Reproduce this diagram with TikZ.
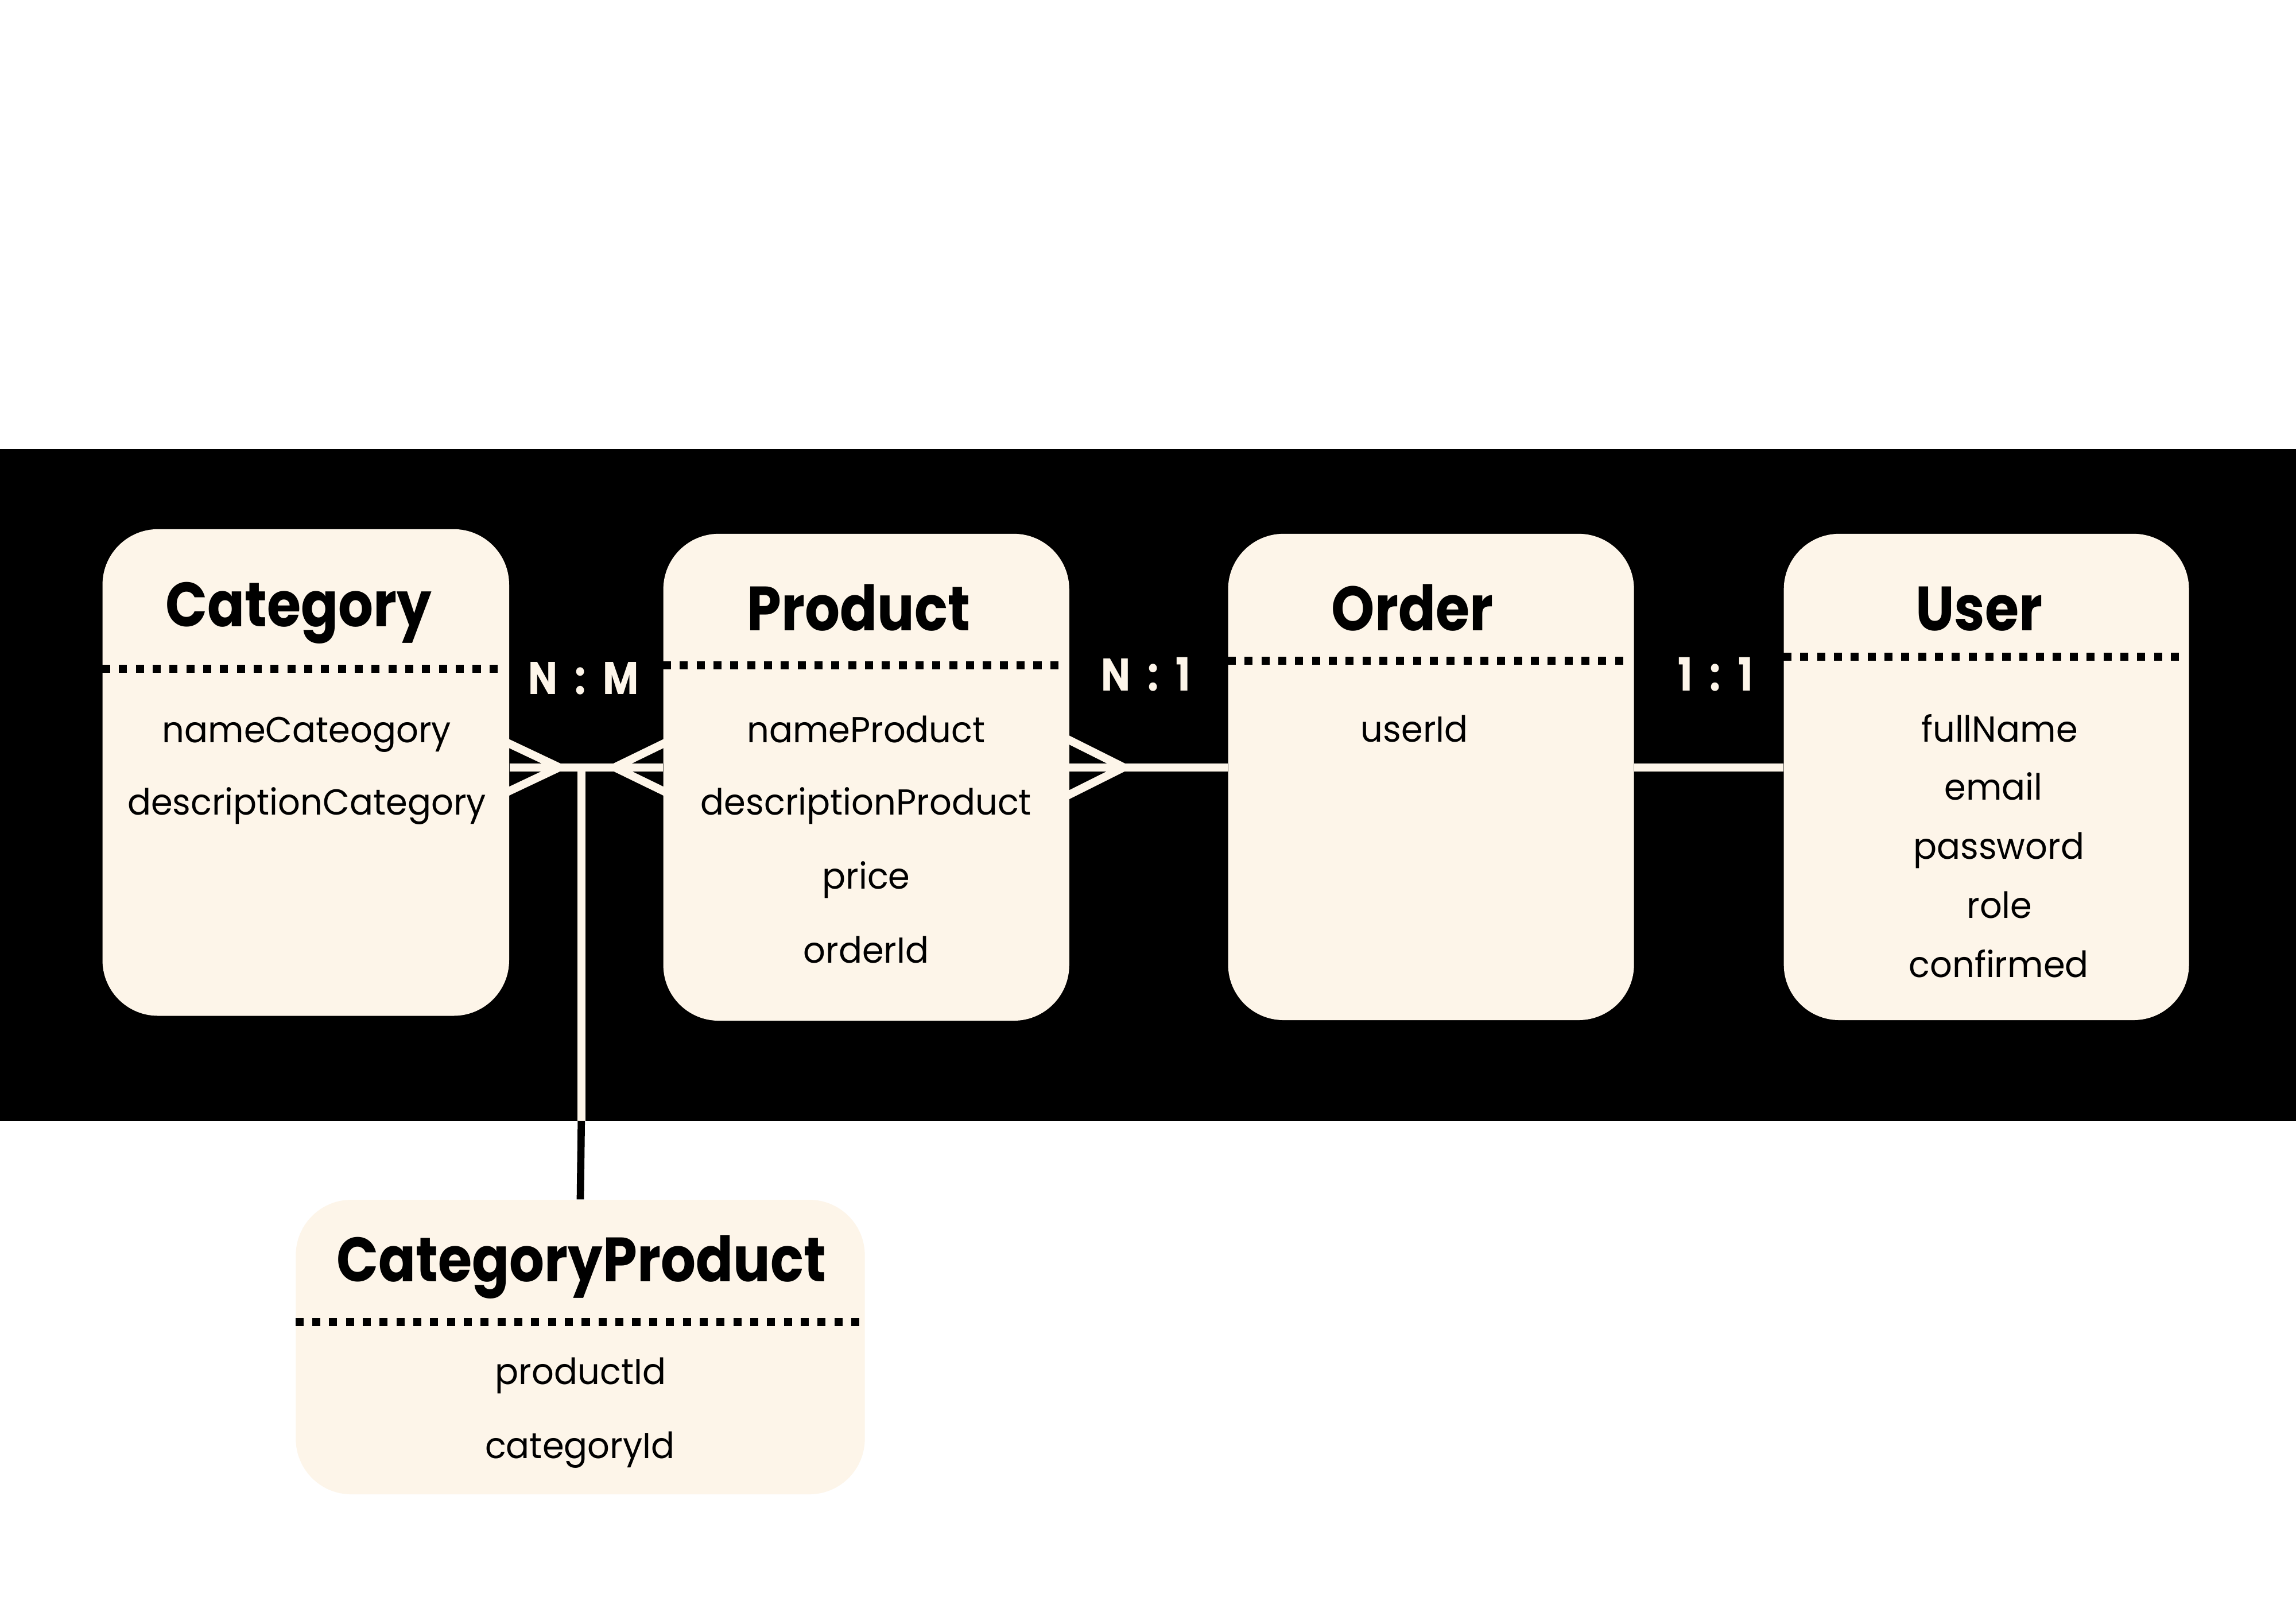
\documentclass[tikz,border=0pt]{standalone}
\usepackage{fontspec}
\setmainfont{Poppins}
\newfontfamily\ttlfont{Poppins}[FakeStretch=0.88]
\newfontfamily\attrfont{Poppins}[FakeStretch=0.965]
\newfontfamily\relfont{Poppins}[FakeStretch=0.85]
\usetikzlibrary{calc}
\definecolor{cream}{RGB}{253,245,233}
\pgfdeclarelayer{bandlayer}
\pgfdeclarelayer{background}
\pgfsetlayers{bandlayer,background,main}
\def\dpx{0.0255102cm}
\newcommand{\relgap}{\hspace{8.5pt}}
\begin{document}
\begin{tikzpicture}[x=0.0255102cm,y=-0.0255102cm,
  entity/.style={draw=none,fill=cream,rounded corners=27.5pt,inner sep=0pt},
  ttl/.style={anchor=base,inner sep=0pt,font=\ttlfont\fontsize{31}{34}\selectfont\bfseries},
  attr/.style={anchor=base,inner sep=0pt,font=\attrfont\fontsize{17.9}{20}\selectfont},
  rel/.style={anchor=base,inner sep=0pt,text=cream,font=\relfont\fontsize{22.7}{25}\selectfont\bfseries},
  dotline/.style={line width=4pt,dash pattern=on 4pt off 4.35pt},
  conn/.style={line width=4pt,draw=cream},
  blackconn/.style={line width=3.6pt,draw=black}]
\useasboundingbox (0,0) rectangle (1568,1108.6);
\begin{pgfonlayer}{bandlayer}
  \fill[white] (0,0) rectangle (1568,1108.6);
  \fill[black] (0,306.5) rectangle (1568,765.5);
\end{pgfonlayer}
% entities
\node[entity,minimum width=277.7*\dpx,minimum height=332.3*\dpx] (cat) at (208.85,527.5) {};
\node[entity,minimum width=277.2*\dpx,minimum height=332.5*\dpx] (prod) at (591.6,530.75) {};
\node[entity,minimum width=277.2*\dpx,minimum height=332.1*\dpx] (ord) at (977.3,530.55) {};
\node[entity,minimum width=276.7*\dpx,minimum height=332.1*\dpx] (usr) at (1356.55,530.55) {};
\node[entity,minimum width=388.6*\dpx,minimum height=201.1*\dpx] (cp) at (396.3,919.85) {};
% dotted separators
\draw[dotline] (cat.west |- 0,456.7) -- (345,456.7);
\draw[dotline] (prod.west |- 0,454.5) -- (727.5,454.5);
\draw[dotline] (ord.west |- 0,451.2) -- (1112.6,451.2);
\draw[dotline] (usr.west |- 0,448.5) -- (1491.5,448.5);
\draw[dotline] (cp.west |- 0,902.8) -- (588.5,902.8);
% titles
\node[ttl] (catT) at (204,428) {Category};
\node[ttl] (prodT) at (586.5,430.5) {Product};
\node[ttl] (ordT) at (964.5,430.5) {Order};
\node[ttl] (usrT) at (1351.5,430.5) {User};
\node[ttl] (cpT) at (397,875.3) {CategoryProduct};
% attributes
\node[attr] (catA1) at (209.5,507) {nameCateogory};
\node[attr] (catA2) at (209.5,556.5) {descriptionCategory};
\node[attr] (prodA1) at (591.5,507) {nameProduct};
\node[attr] (prodA2) at (591.5,556.5) {descriptionProduct};
\node[attr] (prodA3) at (591.5,607) {price};
\node[attr] (prodA4) at (591.5,657.7) {orderId};
\node[attr] (ordA1) at (966,506.5) {userId};
\node[attr] (usrA1) at (1365.5,506.5) {fullName};
\node[attr] (usrA2) at (1361.5,546.3) {email};
\node[attr] (usrA3) at (1365,586.8) {password};
\node[attr] (usrA4) at (1365.5,627) {role};
\node[attr] (usrA5) at (1365,667.4) {confirmed};
\node[attr] (cpA1) at (396.5,945.4) {productId};
\node[attr] (cpA2) at (396,996) {categoryId};
% relationship labels
\node[rel] (r1) at (398.6,474) {N\relgap:\relgap M};
\node[rel] (r2) at (782.5,471.6) {N\relgap:\relgap 1};
\node[rel] (r3) at (1171.5,471.6) {1\relgap:\relgap 1};
% connectors
\coordinate (j1) at (397,524);
\coordinate (bandbot) at (397,765.5);
\begin{pgfonlayer}{background}
  \draw[conn] (cat.east |- j1) -- (prod.west |- j1);
  \draw[conn] ($(cat.east |- j1)+(-3,-17.5)$) -- ($(cat.east |- j1)+(34,0)$) -- ($(cat.east |- j1)+(-3,17.5)$);
  \draw[conn] ($(prod.west |- j1)+(3,-17.5)$) -- ($(prod.west |- j1)+(-33,0)$) -- ($(prod.west |- j1)+(3,17.5)$);
  \draw[conn] (j1) -- (bandbot);
  \draw[blackconn] (bandbot) -- (cp.north);
  \draw[conn] (prod.east |- j1) -- (ord.west |- j1);
  \draw[conn] ($(prod.east |- j1)+(-3,-20)$) -- ($(prod.east |- j1)+(37,0)$) -- ($(prod.east |- j1)+(-3,20)$);
  \draw[conn] (ord.east |- j1) -- (usr.west |- j1);
\end{pgfonlayer}
\end{tikzpicture}
\end{document}
